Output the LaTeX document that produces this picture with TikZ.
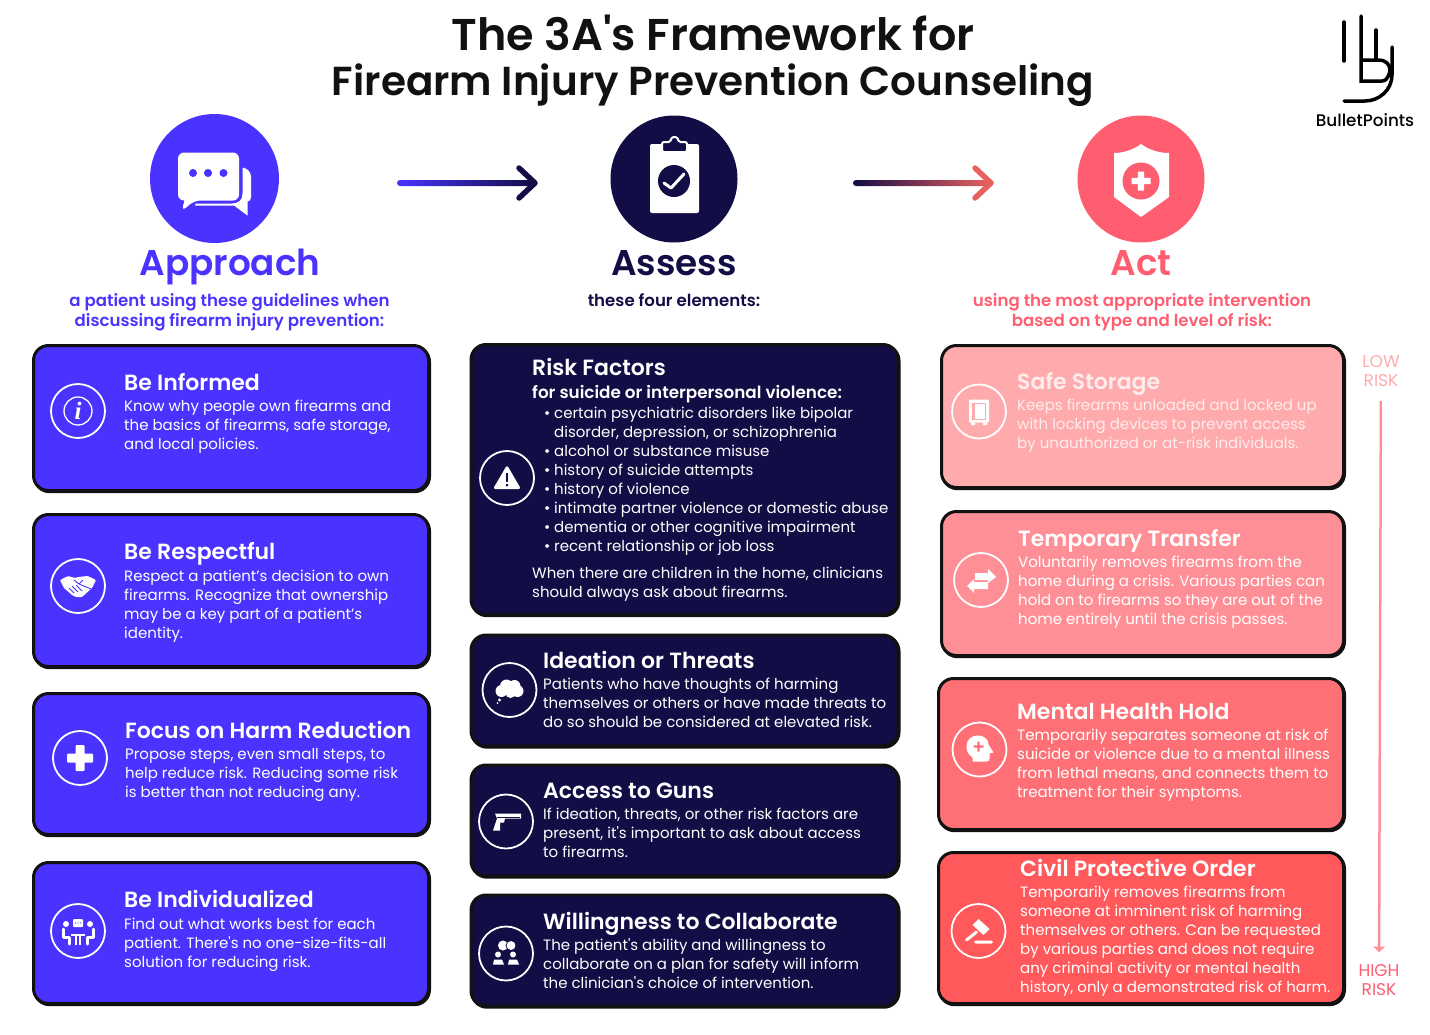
\documentclass[tikz,border=0pt]{standalone}
\usepackage{fontspec}
\setmainfont{Poppins}
\newfontfamily\bodyfont{Poppins}
\newfontfamily\headfont{Poppins Medium}
\newfontfamily\strongfont{Poppins SemiBold}
\newfontfamily\serifglyph{Liberation Serif}
\usetikzlibrary{arrows.meta,positioning,calc}

\definecolor{approachblue}{HTML}{4A33FF}
\definecolor{assessnavy}{HTML}{130D45}
\definecolor{actcoral}{HTML}{FF5E70}
\definecolor{arrowcoral}{HTML}{E8605F}
\definecolor{safepink}{HTML}{FFABAD}
\definecolor{transferpink}{HTML}{FF8F96}
\definecolor{holdpink}{HTML}{FF7076}
\definecolor{orderred}{HTML}{FF595C}
\definecolor{cardedge}{HTML}{111111}
\definecolor{softwhite}{HTML}{FFECEC}
\newcommand{\bul}{\makebox[10pt][l]{•}}

\begin{document}
\begin{tikzpicture}[x=1pt, y=-1pt]
        \tikzstyle{card} = [rectangle, rounded corners=15pt, draw=cardedge, line width=3pt, preaction={draw=cardedge, line width=3pt, transform canvas={xshift=1pt, yshift=-1.2pt}}]
        \tikzstyle{ring} = [circle, draw=white, line width=1.8pt, minimum size=54pt, inner sep=0pt]
        \tikzstyle{badge} = [circle, inner sep=0pt]
        \tikzstyle{cardtitle} = [anchor=base west, inner sep=0pt, text=white, font=\strongfont\fontsize{22}{26}\selectfont]
        \tikzstyle{cardbody} = [anchor=base west, inner sep=0pt, text=white, align=left, font=\bodyfont\fontsize{15}{19}\selectfont]
        \tikzstyle{heading} = [anchor=base, inner sep=0pt, font=\strongfont\fontsize{35.8}{40}\selectfont]
        \tikzstyle{subhead} = [anchor=base, inner sep=0pt, align=center, font=\strongfont\fontsize{16.6}{20}\selectfont]
        \tikzstyle{risk} = [inner sep=0pt, align=center, font=\fontsize{17}{19}\selectfont]
        \tikzstyle{riskline} = [draw=transferpink, line width=2.5pt, -{Stealth[width=12pt, length=6pt, inset=1pt]}]
        \tikzstyle{chevron} = [line width=5.5pt, line cap=round, line join=round]
        \tikzstyle{logoline} = [draw=black, line width=3.5pt, line cap=round]

        \useasboundingbox (0,0) rectangle (1430,1034);

        % header
        \node [anchor=base, inner sep=0pt, align=center, font=\strongfont\fontsize{40.5}{45}\selectfont, text=cardedge] (title) at (713,95) {{\fontsize{44.5}{45}\selectfont The 3A's Framework for}\\Firearm Injury Prevention Counseling};

        % logo
        \coordinate (logo) at (1361,60);
        \draw [logoline] ($(logo)+(-17,-38)$) -- ($(logo)+(-17,1)$);
        \draw [logoline] ($(logo)+(0,-44)$) -- ($(logo)+(0,21)$) -- ($(logo)+(21,21)$) .. controls ($(logo)+(28,21)$) and ($(logo)+(29,10)$) .. ($(logo)+(29,10)$) .. controls ($(logo)+(29,4)$) and ($(logo)+(24,0)$) .. ($(logo)+(18,0)$) -- (logo);
        \draw [logoline] ($(logo)+(15,-30)$) -- ($(logo)+(15,0)$);
        \draw [logoline] ($(logo)+(31,-13)$) -- ($(logo)+(31,15)$) .. controls ($(logo)+(31,30)$) and ($(logo)+(18,41)$) .. ($(logo)+(4,41)$) -- ($(logo)+(-17,41)$);
        \node [inner sep=0pt, font=\headfont\fontsize{16.8}{18}\selectfont] (logotext) at (1365,120) {BulletPoints};

        % big circles
        \node [badge, fill=approachblue, minimum size=129pt] (approach) at (214.5,178.5) {};
        \node [badge, fill=assessnavy, minimum size=127pt] (assess) at (674,179) {};
        \node [badge, fill=actcoral, minimum size=127pt] (act) at (1141,179) {};

        % chat glyph
        \begin{scope}[shift={(approach.center)}]
            \fill [white, rounded corners=6pt] (-36.5,-26) -- (24.5,-26) -- (24.5,22) -- (-20,22) -- (-33,33) [sharp corners] -- (-30,22) [rounded corners=6pt] -- (-36.5,22) -- cycle;
            \fill [white] (28,-11) .. controls (33,-10) and (36,-7) .. (36.5,-2) -- (36.5,19) .. controls (36.5,21) and (35,23) .. (33,23) -- (33,37) -- (19.5,27) -- (-16,27) .. controls (-19,27) and (-20,28) .. (-19,25) -- (17,25) .. controls (24,25) and (28,22) .. (28,15) -- cycle;
            \fill [approachblue] (-21.5,-5.5) circle (4pt) (-6.5,-5.5) circle (4pt) (9,-5.5) circle (4pt);
        \end{scope}

        % clipboard glyph
        \begin{scope}[shift={(assess.center)}]
            \fill [white, rounded corners=2pt] (-24,-35) rectangle (25,34);
            \draw [white, fill=assessnavy, line width=2pt, rounded corners=1.5pt] (-12,-37) -- (-4,-37) -- (-2,-42) -- (3,-42) -- (5,-37) -- (13,-37) -- (13,-27) -- (-12,-27) -- cycle;
            \fill [assessnavy] (0,2) circle (16pt);
            \draw [white, line width=3pt, line cap=round, line join=round] (-10,4) -- (-3,9) -- (10,-5);
        \end{scope}

        % shield glyph
        \begin{scope}[shift={(act.center)}]
            \fill [white] (0,-35) .. controls (-8,-29) and (-18,-26) .. (-27,-26) -- (-27,18) -- (0,38) -- (28,18) -- (28,-26) .. controls (18,-26) and (8,-29) .. (0,-35) -- cycle;
            \fill [actcoral] (0,2) circle (18.5pt);
            \fill [white] (-9.5,-1.2) rectangle (9.5,5.2) (-3.2,-7.5) rectangle (3.2,11.5);
        \end{scope}

        % arrows between the columns
        \coordinate (arrowA) at (397,183);
        \coordinate (arrowB) at (535,183);
        \shade [left color=approachblue, right color=assessnavy, rounded corners=3pt] ($(arrowA)+(0,-3)$) rectangle ($(arrowB)+(-2,3)$);
        \draw [chevron, assessnavy] ($(arrowB)+(-16,-15)$) -- (arrowB) -- ($(arrowB)+(-16,15)$);
        \coordinate (arrowC) at (853,183);
        \coordinate (arrowD) at (991,183);
        \shade [left color=assessnavy, right color=arrowcoral, rounded corners=3pt] ($(arrowC)+(0,-3)$) rectangle ($(arrowD)+(-2,3)$);
        \draw [chevron, arrowcoral] ($(arrowD)+(-16,-15)$) -- (arrowD) -- ($(arrowD)+(-16,15)$);

        % column headings
        \node [heading, text=approachblue] (approachhead) at (230,275) {Approach};
        \node [heading, text=assessnavy] (assesshead) at (674,275) {Assess};
        \node [heading, text=actcoral] (acthead) at (1141,275) {Act};
        \node [subhead, text=approachblue] (approachsub) at (229.5,326) {a patient using these guidelines when\\discussing firearm injury prevention:};
        \node [subhead, text=assessnavy] (assesssub) at (674,306) {these four elements:};
        \node [subhead, text=actcoral] (actsub) at (1142,326) {using the most appropriate intervention\\based on type and level of risk:};

        % approach cards
        \node [card, fill=approachblue, minimum width=395pt, minimum height=145pt] (informed) at (231,418) {};
        \node [ring] (informedicon) at (78,411) {};
        \node [circle, draw=white, line width=1.3pt, minimum size=28pt, inner sep=0pt, text=white, font=\serifglyph\itshape\bfseries\fontsize{25}{25}\selectfont] (informedglyph) at (informedicon.center) {i};
        \node [cardtitle] (informedtitle) at (124,390) {Be Informed};
        \node [cardbody] (informedtext) at (124,449) {Know why people own firearms and\\the basics of firearms, safe storage,\\and local policies.};

        \node [card, fill=approachblue, minimum width=395pt, minimum height=152pt] (respectful) at (231,590.5) {};
        \node [ring] (respectfulicon) at (78,586) {};
        \begin{scope}[shift={(respectfulicon.center)}]
            \fill [white, rounded corners=1pt] (-18,-6) -- (-10,-10) -- (-3,-8) -- (0,-9) -- (10,-10) -- (18,-6) -- (14,2) -- (4,11) -- (-2,11) -- (-6,9) -- (-14,2) -- cycle;
            \draw [approachblue, line width=0.9pt] (-4,-6) -- (1,-2) -- (13,3) (1,-2) -- (5,-6) (-9,2) -- (-4,7) (-6,0) -- (0,6) (-2,-1) -- (4,5);
        \end{scope}
        \node [cardtitle] (respectfultitle) at (124,559) {Be Respectful};
        \node [cardbody] (respectfultext) at (124,638) {Respect a patient’s decision to own\\firearms. Recognize that ownership\\may be a key part of a patient’s\\identity.};

        \node [card, fill=approachblue, minimum width=395pt, minimum height=141pt] (harm) at (231,764) {};
        \node [ring] (harmicon) at (80,758) {};
        \begin{scope}[shift={(harmicon.center)}]
            \fill [white, rounded corners=1pt] (-13,-4.5) rectangle (13,4.5);
            \fill [white, rounded corners=1pt] (-4.5,-13) rectangle (4.5,13);
        \end{scope}
        \node [cardtitle] (harmtitle) at (125,738) {Focus on Harm Reduction};
        \node [cardbody] (harmtext) at (125,797) {Propose steps, even small steps, to\\help reduce risk. Reducing some risk\\is better than not reducing any.};

        \node [card, fill=approachblue, minimum width=395pt, minimum height=141pt] (individual) at (231,933) {};
        \node [ring] (individualicon) at (78,931) {};
        \begin{scope}[shift={(individualicon.center)}]
            \fill [white] (-12,-7) circle (3pt) (12,-7) circle (3pt);
            \fill [white, rounded corners=1pt] (-5,-12) rectangle (5,-4);
            \fill [approachblue] (-2.5,-8) circle (0.7pt) (0,-8) circle (0.7pt) (2.5,-8) circle (0.7pt);
            \draw [white, line width=3pt, line cap=round, line join=round] (-15,-2) -- (-15,6) -- (-9,6) -- (-9,13) (15,-2) -- (15,6) -- (9,6) -- (9,13);
            \draw [white, line width=2.5pt] (-7,4) -- (7,4) (-2,4) -- (-2,14) (2,4) -- (2,14);
        \end{scope}
        \node [cardtitle] (individualtitle) at (124,907) {Be Individualized};
        \node [cardbody] (individualtext) at (124,967) {Find out what works best for each\\patient. There's no one-size-fits-all\\solution for reducing risk.};

        % assess cards
        \node [card, fill=assessnavy, minimum width=427pt, minimum height=270pt] (riskfactors) at (684.5,479.5) {};
        \node [ring] (riskicon) at (507,478) {};
        \begin{scope}[shift={(riskicon.center)}]
            \fill [white, rounded corners=2.5pt] (0,-13) -- (14,11) -- (-14,11) -- cycle;
            \fill [assessnavy] (-1.3,-5) rectangle (1.3,4);
            \fill [assessnavy] (0,7) circle (1.5pt);
        \end{scope}
        \node [cardtitle] (risktitle) at (532,375) {Risk Factors};
        \node [cardbody, font=\strongfont\fontsize{16.8}{19}\selectfont] (risksub) at (532,398) {for suicide or interpersonal violence:};
        \node [cardbody] (risklist) at (544,551) {\bul certain psychiatric disorders like bipolar\\\hspace*{10pt}disorder, depression, or schizophrenia\\\bul alcohol or substance misuse\\\bul history of suicide attempts\\\bul history of violence\\\bul intimate partner violence or domestic abuse\\\bul dementia or other cognitive impairment\\\bul recent relationship or job loss};
        \node [cardbody] (risknote) at (532,597) {When there are children in the home, clinicians\\should always ask about firearms.};

        \node [card, fill=assessnavy, minimum width=427pt, minimum height=111pt] (ideation) at (684.5,690.5) {};
        \node [ring] (ideationicon) at (509.5,690) {};
        \begin{scope}[shift={(ideationicon.center)}]
            \fill [white] (-8,1) circle (6pt) (-3,-4) circle (6.5pt) (5,-4) circle (6pt) (8,1) circle (6pt) (1,3) circle (5pt);
            \fill [white] (-10,10) circle (1.6pt) (-12,13) circle (1pt);
        \end{scope}
        \node [cardtitle] (ideationtitle) at (543,668) {Ideation or Threats};
        \node [cardbody] (ideationtext) at (543,727) {Patients who have thoughts of harming\\themselves or others or have made threats to\\do so should be considered at elevated risk.};

        \node [card, fill=assessnavy, minimum width=427pt, minimum height=111pt] (access) at (684.5,820.5) {};
        \node [ring] (accessicon) at (506,821.5) {};
        \begin{scope}[shift={(accessicon.center)}]
            \fill [white] (-11,-8) -- (15,-8) -- (15,-3) -- (-1,-3) -- (-2,1) -- (-6,1) -- (-6,9) -- (-13,9) -- (-9,-3) -- cycle;
            \draw [assessnavy, line width=0.7pt] (-9,-4.5) -- (14,-4.5);
        \end{scope}
        \node [cardtitle] (accesstitle) at (543,798) {Access to Guns};
        \node [cardbody] (accesstext) at (543,857) {If ideation, threats, or other risk factors are\\present, it's important to ask about access\\to firearms.};

        \node [card, fill=assessnavy, minimum width=427pt, minimum height=111pt] (willing) at (684.5,950.5) {};
        \node [ring] (willingicon) at (506,953.5) {};
        \begin{scope}[shift={(willingicon.center)}]
            \fill [white] (-3,-8) circle (5pt);
            \draw [assessnavy, fill=white, line width=0.8pt] (5,-8) circle (5pt);
            \fill [white] (-8,1) circle (3pt) (7,1) circle (3pt);
            \fill [white] (-13,11) -- (-12,6) -- (-4,6) -- (-2,11) -- cycle (2,11) -- (3,6) -- (11,6) -- (13,11) -- cycle;
        \end{scope}
        \node [cardtitle] (willingtitle) at (543,929) {Willingness to Collaborate};
        \node [cardbody] (willingtext) at (543,988) {The patient's ability and willingness to\\collaborate on a plan for safety will inform\\the clinician's choice of intervention.};

        % act cards
        \node [card, fill=safepink, minimum width=402pt, minimum height=142pt] (safe) at (1142.5,416.5) {};
        \node [ring] (safeicon) at (979,411.5) {};
        \begin{scope}[shift={(safeicon.center)}]
            \fill [white, rounded corners=1pt] (-10,-12) rectangle (10,11);
            \fill [safepink] (-7,-9) rectangle (7,8);
            \fill [white] (-4.5,-8) rectangle (6,7);
            \fill [white] (-8,11) rectangle (-4,13.5) (4,11) rectangle (8,13.5);
        \end{scope}
        \node [cardtitle, text=softwhite] (safetitle) at (1017,389) {Safe Storage};
        \node [cardbody, text=softwhite] (safetext) at (1017,448) {Keeps firearms unloaded and locked up\\with locking devices to prevent access\\by unauthorized or at-risk individuals.};

        \node [card, fill=transferpink, minimum width=402pt, minimum height=144pt] (transfer) at (1142.5,583.5) {};
        \node [ring] (transfericon) at (981,580) {};
        \begin{scope}[shift={(transfericon.center)}]
            \fill [white] (-6,-7) -- (7,-7) -- (7,-11) -- (15,-3) -- (7,3) -- (7,0) -- (-6,0) -- cycle;
            \fill [white] (7,2) -- (7,9) -- (-7,9) -- (-7,13) -- (-14,6) -- (-7,-1) -- (-7,2) -- cycle;
        \end{scope}
        \node [cardtitle] (transfertitle) at (1018,546) {Temporary Transfer};
        \node [cardbody] (transfertext) at (1018,624) {Voluntarily removes firearms from the\\home during a crisis. Various parties can\\hold on to firearms so they are out of the\\home entirely until the crisis passes.};

        \node [card, fill=holdpink, minimum width=405pt, minimum height=151pt] (hold) at (1141,754) {};
        \node [ring] (holdicon) at (979.5,749.5) {};
        \begin{scope}[shift={(holdicon.center)}]
            \fill [white] (-2,-14) .. controls (6,-14) and (9,-9) .. (9,-5) -- (14,3) -- (10,4) -- (10,9) .. controls (10,11) and (9,12) .. (7,12) -- (-7,12) -- (-7,8) .. controls (-12,5) and (-13,0) .. (-13,-3) .. controls (-13,-10) and (-8,-14) .. (-2,-14) -- cycle;
            \fill [holdpink] (-6,-4.2) rectangle (4,-1.8) (-2.2,-8) rectangle (0.2,2);
        \end{scope}
        \node [cardtitle] (holdtitle) at (1017,719) {Mental Health Hold};
        \node [cardbody] (holdtext) at (1017,797) {Temporarily separates someone at risk of\\suicide or violence due to a mental illness\\from lethal means, and connects them to\\treatment for their symptoms.};

        \node [card, fill=orderred, minimum width=405pt, minimum height=151pt] (order) at (1141,928) {};
        \node [ring] (ordericon) at (978.5,931) {};
        \begin{scope}[shift={(ordericon.center)}]
            \fill [white] (0,-12) -- (11,-2) -- (5,4) -- (-6,-6) -- cycle;
            \draw [white, line width=3pt, line cap=round] (-2,1) -- (-12,9) (-3,11) -- (13,11);
        \end{scope}
        \node [cardtitle] (ordertitle) at (1020,876) {Civil Protective Order};
        \node [cardbody] (ordertext) at (1020,992) {Temporarily removes firearms from\\someone at imminent risk of harming\\themselves or others. Can be requested\\by various parties and does not require\\any criminal activity or mental health\\history, only a demonstrated risk of harm.};

        % risk scale
        \node [risk, text=safepink] (lowrisk) at (1381,371) {LOW\\RISK};
        \node [risk, text=actcoral] (highrisk) at (1379,980) {HIGH\\RISK};
        \draw [riskline, shorten <=14pt, shorten >=12pt] (lowrisk) -- (highrisk);
    \end{tikzpicture}
\end{document}
